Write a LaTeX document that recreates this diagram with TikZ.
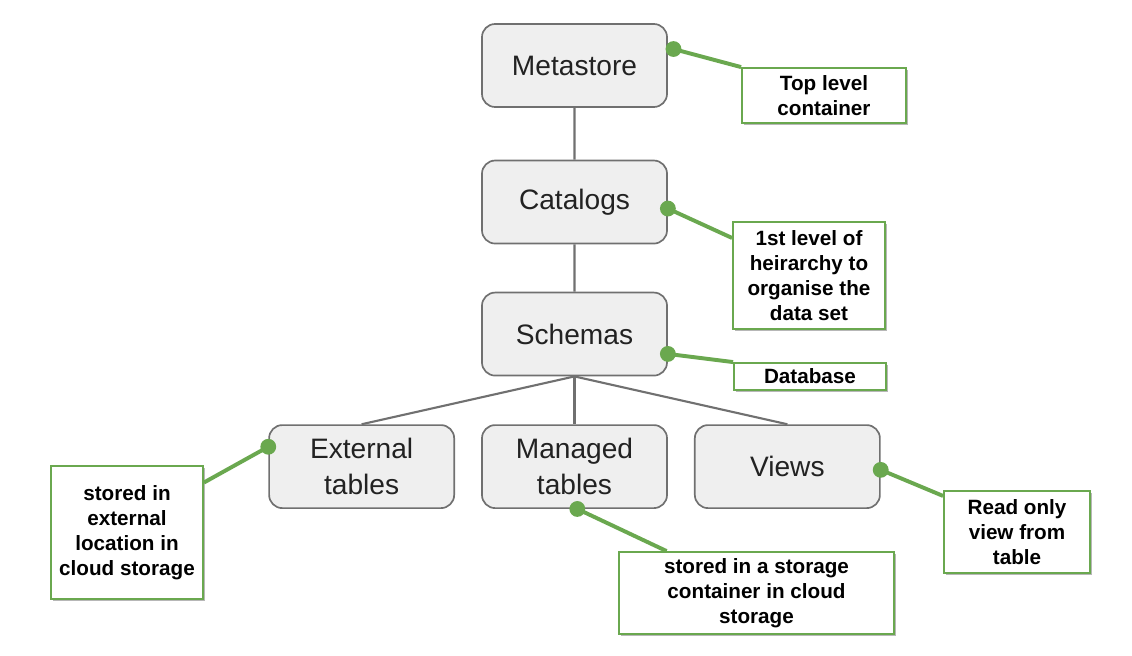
\documentclass[tikz,border=0pt]{standalone}
\usepackage{fontspec}
\setmainfont{Liberation Sans}
\usetikzlibrary{shadows}
\definecolor{boxgray}{HTML}{EFEFEF}
\definecolor{linegray}{HTML}{707070}
\definecolor{notegreen}{HTML}{6AA84F}
\definecolor{textgray}{HTML}{222222}
\begin{document}
\begin{tikzpicture}[x=0.025cm, y=-0.025cm,
    edge from parent path={(\tikzparentnode.south) -- (\tikzchildnode.north)},
    edge from parent/.style={draw=linegray, line width=1.5pt},
    level 1/.style={level distance=3.4125cm},
    level 2/.style={level distance=3.3cm},
    level 3/.style={level distance=3.3125cm, sibling distance=5.32cm},
    part/.style={draw=linegray, line width=1.2pt, fill=boxgray, rounded corners=0.33cm,
        minimum width=4.625cm, minimum height=2.075cm, inner sep=0pt, align=center,
        text=textgray, font=\fontsize{20}{25.5}\selectfont},
    note/.style={draw=notegreen, line width=1.3pt, fill=white, inner sep=0pt, align=center,
        drop shadow={shadow xshift=1.2pt, shadow yshift=-1.5pt, opacity=0.4, fill=black!70},
        text=black, font=\bfseries\fontsize{14.7}{17.7}\selectfont},
    link/.style={draw=notegreen, fill=notegreen, line width=2.8pt}]

\useasboundingbox (0,0) rectangle (1132,656);

\node[part] (meta) at (574.5,65.5) {Metastore}
    child {node[part] (cat) {Catalogs}
        child {node[part] (sch) {Schemas}
            child {node[part] (ext) {External\\tables}}
            child {node[part] (man) {Managed\\tables}}
            child {node[part] (views) {Views}}
        }
    };

\node[note, minimum width=4.1cm, minimum height=1.375cm] (topnote) at (824,95.5) {Top level\\container};
\node[note, minimum width=3.8cm, minimum height=2.675cm] (lvlnote) at (809,275.5) {1st level of\\heirarchy to\\organise the\\data set};
\node[note, minimum width=3.8cm, minimum height=0.675cm] (dbnote) at (810,376.5) {Database};
\node[note, minimum width=3.8cm, minimum height=3.325cm] (extnote) at (127,532.5) {stored in\\external\\location in\\cloud storage};
\node[note, minimum width=6.875cm, minimum height=2.05cm] (mannote) at (756.5,593) {stored in a storage\\container in cloud\\storage};
\node[note, minimum width=3.65cm, minimum height=2.05cm] (vnote) at (1017,532) {Read only\\view from\\table};

\filldraw[link] ([xshift=4pt]meta.10) circle (4.2pt) -- (topnote.north west);
\filldraw[link] (cat.-4) circle (4.2pt) -- (lvlnote.154);
\filldraw[link] (sch.-12) circle (4.2pt) -- (dbnote.north west);
\filldraw[link] (ext.168) circle (4.2pt) -- (extnote.33);
\filldraw[link] ([xshift=2pt]man.south) circle (4.2pt) -- (mannote.155);
\filldraw[link] (views.-2) circle (4.2pt) -- (vnote.154);

\end{tikzpicture}
\end{document}
